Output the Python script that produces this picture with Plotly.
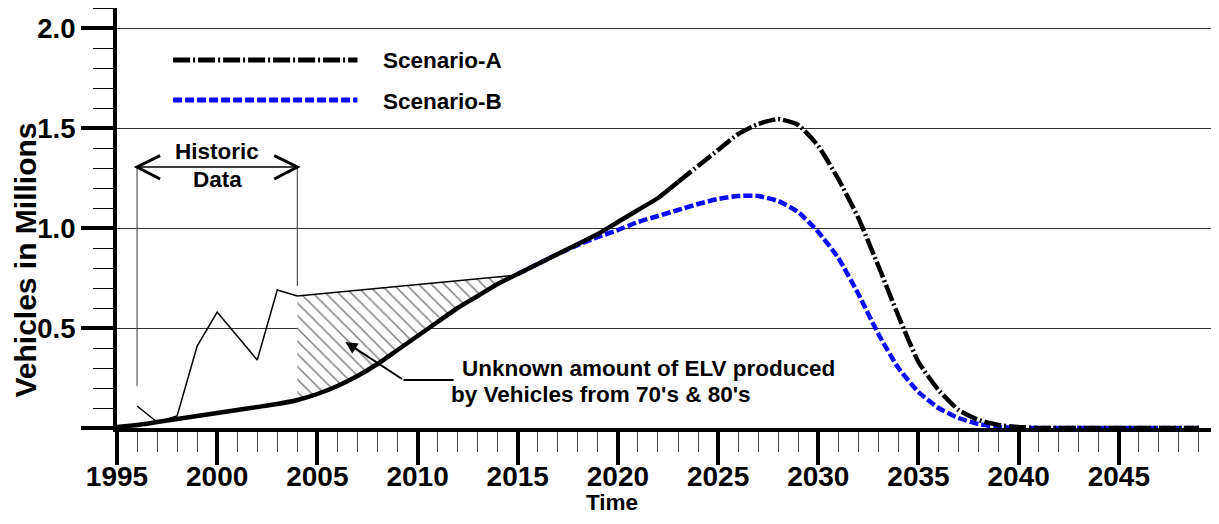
import plotly.graph_objects as go

# ---- data (values in millions of vehicles) ----
years = list(range(1995, 2050))

# common model curve 1995-2014 (both scenarios identical)
common_curve = [0.005, 0.015, 0.03, 0.045, 0.06, 0.075, 0.09, 0.105, 0.12, 0.14,
                0.17, 0.21, 0.26, 0.32, 0.39, 0.46, 0.53, 0.60, 0.66, 0.72]

# 2015-2049
scenario_a_tail = [0.77, 0.82, 0.87, 0.92, 0.97, 1.03, 1.09, 1.15, 1.23, 1.31,
                   1.39, 1.47, 1.52, 1.545, 1.515, 1.41, 1.245, 1.05, 0.81, 0.56,
                   0.33, 0.19, 0.09, 0.04, 0.015, 0.005,
                   0, 0, 0, 0, 0, 0, 0, 0, 0]
scenario_b_tail = [0.77, 0.82, 0.87, 0.915, 0.955, 0.99, 1.03, 1.06, 1.09, 1.12,
                   1.145, 1.16, 1.16, 1.135, 1.08, 0.98, 0.85, 0.67, 0.47, 0.30,
                   0.18, 0.10, 0.05, 0.02, 0.005, 0,
                   0, 0, 0, 0, 0, 0, 0, 0, 0]

scenario_a = common_curve + scenario_a_tail
scenario_b = common_curve + scenario_b_tail

historic_years = [1996, 1997, 1998, 1999, 2000, 2002, 2003, 2004]
historic_values = [0.11, 0.03, 0.06, 0.41, 0.58, 0.34, 0.69, 0.66]

unknown_years = [2004, 2015]
unknown_values = [0.66, 0.765]

x_ticks = list(range(1995, 2050, 5))
x_minor = [y for y in range(1996, 2050) if y % 5 != 0]
y_ticks = [0, 0.5, 1.0, 1.5, 2.0]
y_ticktext = ["", "0.5", "1.0", "1.5", "2.0"]

FONT = "Liberation Sans, Arial, sans-serif"
DASHDOT = "17px,3px,2px,3px"
DASH_B = "9px,3px"
SMOOTH = dict(shape="spline", smoothing=0.5)

fig = go.Figure()

# hatched region: unknown ELV between upper estimate and model curve
i0 = years.index(2004)
i1 = years.index(2015)
poly_x = unknown_years + years[i0:i1 + 1][::-1]
poly_y = unknown_values + scenario_a[i0:i1 + 1][::-1]
fig.add_scatter(x=poly_x, y=poly_y, mode="lines", fill="toself",
                line=dict(width=0, color="rgba(0,0,0,0)"),
                fillcolor="white",
                fillpattern=dict(shape="\\", fgcolor="black", bgcolor="white",
                                 size=9, solidity=0.17),
                hoverinfo="skip")

# historic data and upper estimate (thin)
fig.add_scatter(x=historic_years, y=historic_values, mode="lines",
                line=dict(color="black", width=1.5))
fig.add_scatter(x=unknown_years, y=unknown_values, mode="lines",
                line=dict(color="black", width=1.5))

# scenario B (dashed blue) from 2015
fig.add_scatter(x=years[i1:], y=scenario_b[i1:], mode="lines",
                line=dict(color="#0a0aff", width=4.5, dash=DASH_B, **SMOOTH))

# common curve and scenario A
i_split = years.index(2023)
fig.add_scatter(x=years[:i_split + 1], y=scenario_a[:i_split + 1], mode="lines",
                line=dict(color="black", width=4.5, **SMOOTH))
fig.add_scatter(x=years[i_split:], y=scenario_a[i_split:], mode="lines",
                line=dict(color="black", width=4.5, dash=DASHDOT, **SMOOTH))

# legend samples
shapes = [
    dict(type="line", x0=1997.8, x1=2007.0, y0=1.84, y1=1.84,
         line=dict(color="black", width=5, dash=DASHDOT)),
    dict(type="line", x0=1997.8, x1=2007.0, y0=1.64, y1=1.64,
         line=dict(color="#0a0aff", width=5, dash=DASH_B)),
]

# historic data bracket
bracket_y = 1.305
shapes += [
    dict(type="line", x0=1996, x1=1996, y0=0.21, y1=bracket_y,
         line=dict(color="#555", width=1.2)),
    dict(type="line", x0=2004, x1=2004, y0=0.71, y1=bracket_y,
         line=dict(color="#555", width=1.2)),
    dict(type="line", x0=1996, x1=2004, y0=bracket_y, y1=bracket_y,
         line=dict(color="black", width=1.5)),
    dict(type="path", path=f"M 1997.15,{bracket_y + 0.057} L 1996,{bracket_y} L 1997.15,{bracket_y - 0.06}",
         line=dict(color="black", width=3)),
    dict(type="path", path=f"M 2002.85,{bracket_y + 0.057} L 2004,{bracket_y} L 2002.85,{bracket_y - 0.06}",
         line=dict(color="black", width=3)),
    # leader line of the ELV note
    dict(type="line", x0=2009.3, x1=2011.8, y0=0.24, y1=0.24,
         line=dict(color="black", width=2)),
]
for s in shapes:
    s.setdefault("xref", "x")
    s.setdefault("yref", "y")

TXT = 22.5
annotations = [
    dict(x=2008.2, y=1.84, text="Scenario-A", xanchor="left", showarrow=False,
         font=dict(size=TXT)),
    dict(x=2008.2, y=1.635, text="Scenario-B", xanchor="left", showarrow=False,
         font=dict(size=TXT)),
    dict(x=2000.0, y=1.385, text="Historic", showarrow=False, font=dict(size=TXT)),
    dict(x=2000.0, y=1.245, text="Data", showarrow=False, font=dict(size=TXT)),
    dict(x=2012.1, y=0.30, text="Unknown amount of ELV produced", xanchor="left",
         showarrow=False, font=dict(size=TXT)),
    dict(x=2011.55, y=0.17, text="by Vehicles from 70's &amp; 80's", xanchor="left",
         showarrow=False, font=dict(size=TXT)),
    dict(x=2006.4, y=0.43, ax=2009.3, ay=0.24, axref="x", ayref="y", text="",
         showarrow=True, arrowhead=2, arrowsize=1.2, arrowwidth=2, arrowcolor="black"),
    dict(x=2019.7, y=-0.2085, xref="x", yref="paper", text="Time", showarrow=False,
         xanchor="center", yanchor="bottom", borderpad=0, font=dict(size=22.5)),
    dict(x=-0.0845, y=0.84, xref="paper", yref="y", text="Vehicles in Millions",
         textangle=-90, showarrow=False, xanchor="center", yanchor="middle",
         borderpad=0, font=dict(size=30)),
]

# the page body adds an 8px margin on every side; the figure is sized to fit
# inside the window and the margins are shifted to compensate
fig.update_layout(
    width=1203, height=508,
    margin=dict(l=109, r=0, t=0, b=88, autoexpand=False),
    plot_bgcolor="white", paper_bgcolor="white",
    showlegend=False,
    font=dict(family=FONT, color="black", weight="bold"),
    shapes=shapes,
    annotations=annotations,
)
fig.update_xaxes(
    range=[1995, 2049.6], tickmode="array", tickvals=x_ticks,
    ticktext=[str(t) for t in x_ticks],
    ticks="outside", ticklen=33, tickwidth=4, tickcolor="black",
    showline=True, linewidth=4, linecolor="black",
    showgrid=False, zeroline=False, automargin=False,
    ticklabelstandoff=-13,
    tickfont=dict(size=28, family=FONT, weight="bold"),
    minor=dict(tickmode="array", tickvals=x_minor, ticks="outside", ticklen=20,
               tickwidth=1.2, tickcolor="#444", showgrid=False),
)
fig.update_yaxes(
    range=[0, 2.1], tickmode="array", tickvals=y_ticks, ticktext=y_ticktext,
    ticks="outside", ticklen=32, tickwidth=4, tickcolor="black",
    showline=True, linewidth=4, linecolor="black",
    showgrid=True, gridcolor="#333", gridwidth=1, zeroline=False, automargin=False,
    ticklabelstandoff=0,
    tickfont=dict(size=27.5, family=FONT, weight="bold"),
    minor=dict(dtick=0.1, tick0=0, ticks="outside", ticklen=20, tickwidth=1.2,
               tickcolor="black", showgrid=False),
)

fig.write_html("out.html")
